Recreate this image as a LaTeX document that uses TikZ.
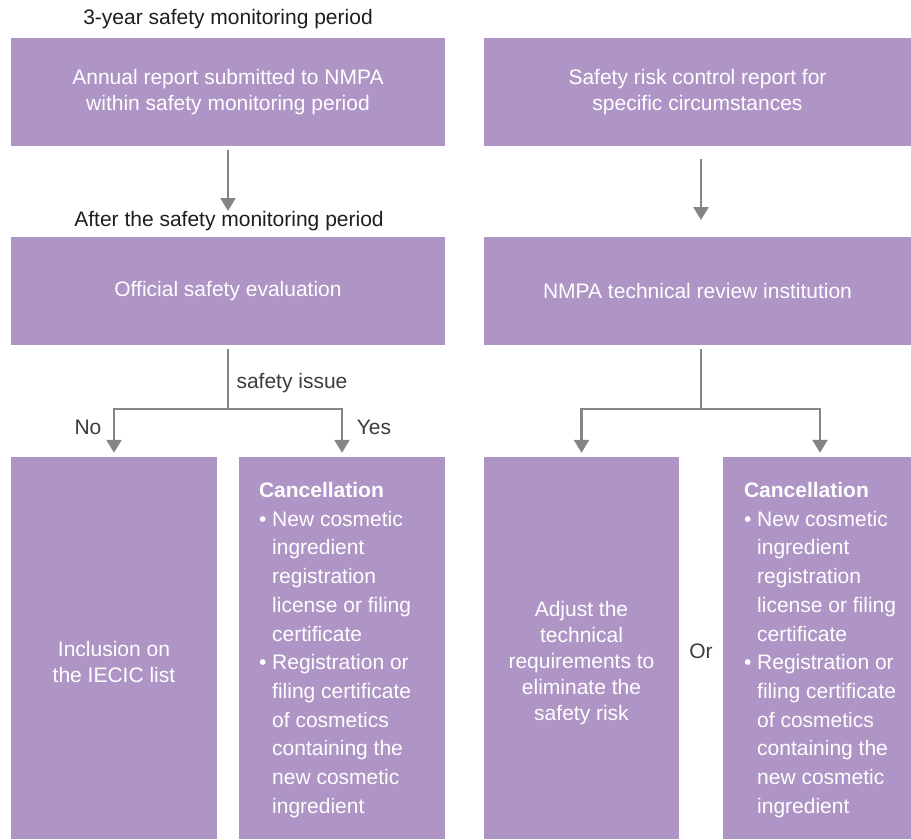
\documentclass[tikz,border=0pt]{standalone}
\usepackage{fontspec}
\setmainfont{Liberation Sans}
\usepackage{tikz}
\usetikzlibrary{arrows.meta}

\definecolor{boxpurple}{HTML}{AE95C5}
\definecolor{linegray}{HTML}{858585}
\definecolor{labelgray}{HTML}{3C3C3C}
\definecolor{titleblack}{HTML}{1E1E1E}

\newcommand{\cancellist}{\textbf{Cancellation}\\
\textbullet\ New cosmetic\\
\phantom{\textbullet\ }ingredient\\
\phantom{\textbullet\ }registration\\
\phantom{\textbullet\ }license or filing\\
\phantom{\textbullet\ }certificate\\
\textbullet\ Registration or\\
\phantom{\textbullet\ }filing certificate\\
\phantom{\textbullet\ }of cosmetics\\
\phantom{\textbullet\ }containing the\\
\phantom{\textbullet\ }new cosmetic\\
\phantom{\textbullet\ }ingredient}

\begin{document}
\begin{tikzpicture}[x=1pt,y=-1pt,
  box/.style={fill=boxpurple,text=white,align=center,inner sep=0pt,
    font=\fontsize{21}{26}\selectfont},
  boxtext/.style={text=white,align=center,inner sep=0pt,font=\fontsize{21}{26}\selectfont},
  listtext/.style={text=white,align=left,inner sep=0pt,font=\fontsize{21}{28.7}\selectfont},
  title/.style={text=titleblack,inner sep=0pt,font=\fontsize{21}{26}\selectfont},
  lbl/.style={text=labelgray,inner sep=0pt,font=\fontsize{21}{26}\selectfont},
  line/.style={draw=linegray,line width=2.5pt},
  arr/.style={line,-{Triangle[width=15pt,length=13pt]}}]
\useasboundingbox (0,0) rectangle (911,839);

% top row
\node[title] (period) at (228,19) {3-year safety monitoring period};
\node[box,minimum width=434pt,minimum height=108pt] (annual) at (228,92)
  {Annual report submitted to NMPA\\within safety monitoring period};
\node[box,minimum width=427pt,minimum height=108pt] (riskreport) at (697.5,92)
  {Safety risk control report for\\specific circumstances};

% second row
\node[title] (after) at (229,221) {After the safety monitoring period};
\node[box,minimum width=434pt,minimum height=108pt] (evaluation) at (228,291)
  {Official safety evaluation};
\node[box,minimum width=427pt,minimum height=108pt] (review) at (697.5,291)
  {NMPA technical review institution};

% bottom row
\node[box,minimum width=206pt,minimum height=382pt] (inclusion) at (114,648) {};
\node[boxtext] (inclusiontext) at ([yshift=-14pt]inclusion.center)
  {Inclusion on\\the IECIC list};
\node[box,minimum width=206pt,minimum height=382pt] (cancelL) at (342,648) {};
\node[listtext,anchor=west] (cancelLtext) at ([xshift=20pt,yshift=-2pt]cancelL.west) {\cancellist};
\node[box,minimum width=195pt,minimum height=382pt] (adjust) at (581.5,648) {};
\node[boxtext] (adjusttext) at ([yshift=-15pt]adjust.center)
  {Adjust the\\technical\\requirements to\\eliminate the\\safety risk};
\node[box,minimum width=188pt,minimum height=382pt] (cancelR) at (817,648) {};
\node[listtext,anchor=west] (cancelRtext) at ([xshift=21pt,yshift=-2pt]cancelR.west) {\cancellist};

% labels
\node[lbl] (issue) at (292,383) {safety issue};
\node[lbl] (no) at (88,427) {No};
\node[lbl] (yes) at (374,427) {Yes};
\node[lbl] (or) at (701,651) {Or};

% connectors
\coordinate (tipL) at (228,211);
\coordinate (startR) at (701,159);
\coordinate (tipR) at (701,220);
\coordinate (splitL) at (228,409);
\coordinate (splitR) at (701,409);
\draw[arr] ([yshift=-4pt]annual.south) -- (tipL);
\draw[arr] (startR) -- (tipR);
\draw[line] ([yshift=-4pt]evaluation.south) -- (splitL);
\draw[arr] (splitL) -| ([yshift=4pt]inclusion.north);
\draw[arr] (splitL) -| ([yshift=4pt]cancelL.north);
\draw[line] (splitR |- review.south) ++(0,4) -- (splitR);
\draw[arr] (splitR) -| ([yshift=4pt]adjust.north);
\draw[arr] (splitR) -| ([yshift=4pt,xshift=3pt]cancelR.north);
\end{tikzpicture}
\end{document}
